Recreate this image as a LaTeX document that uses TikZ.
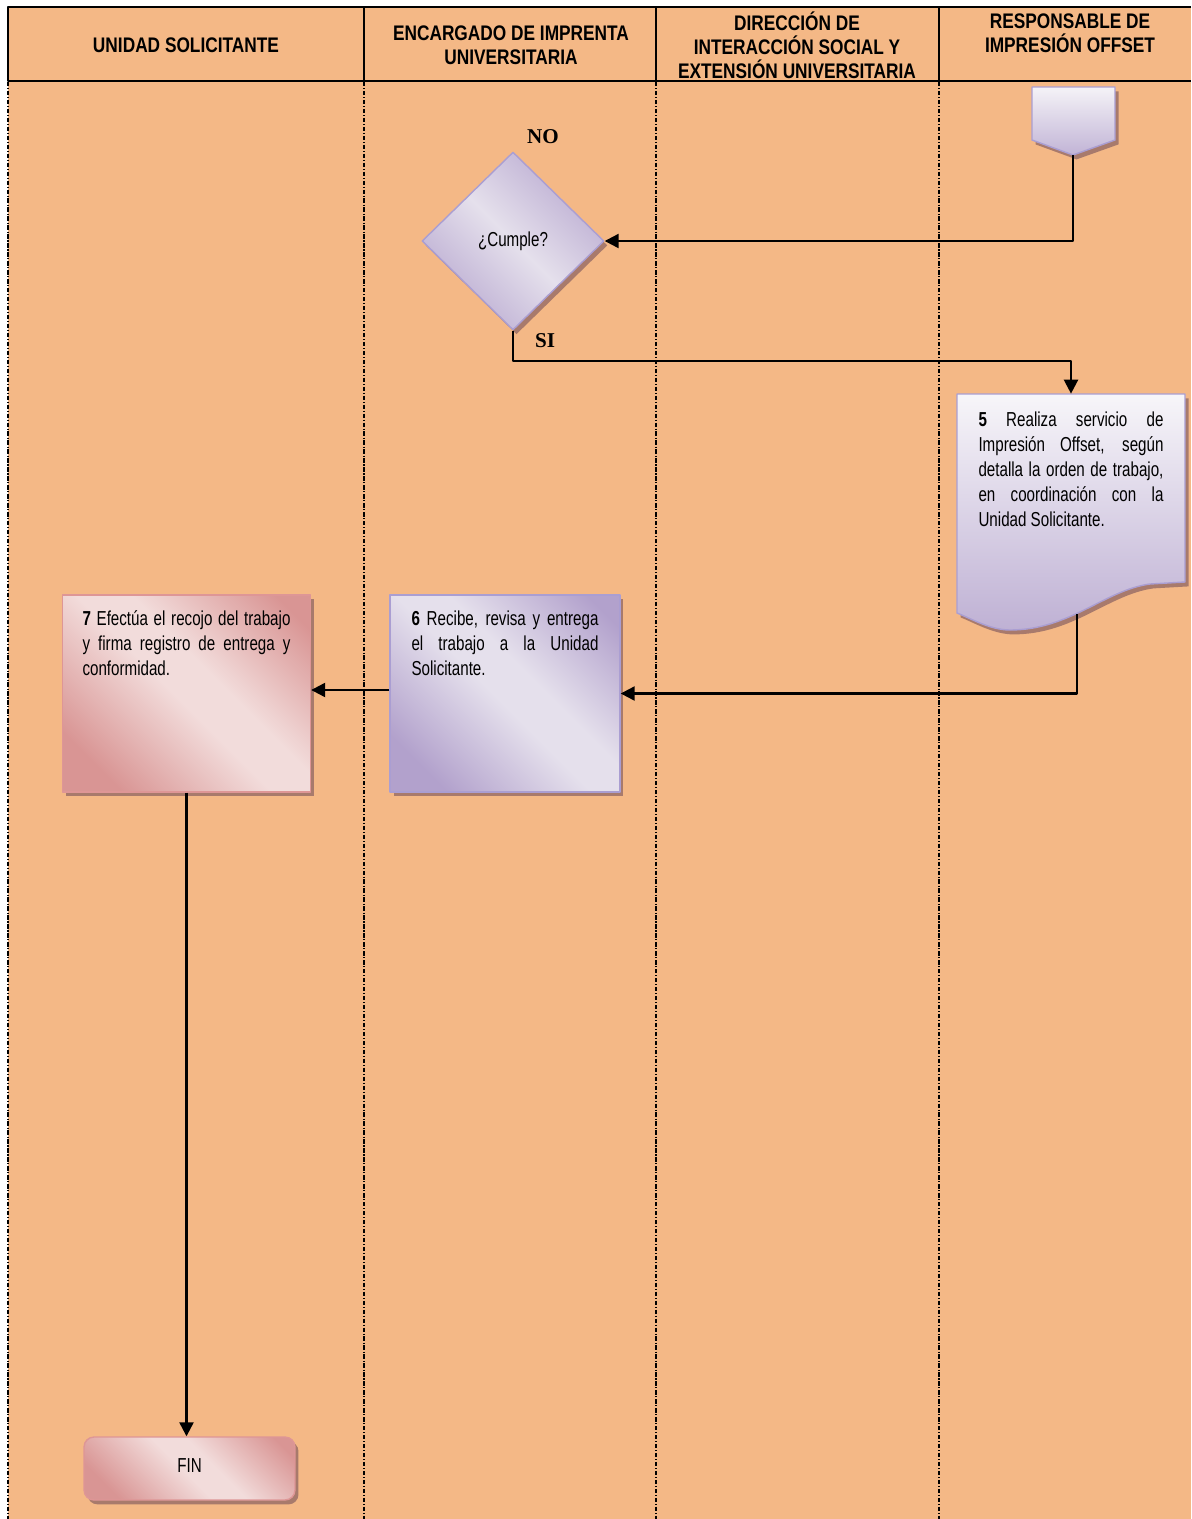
\documentclass[tikz,border=0pt]{standalone}
\usepackage{fontspec}
\setmainfont{Liberation Sans}
\newfontfamily\agencyfont[FakeStretch=0.75]{Liberation Sans}
\newfontfamily\hdrfont[FakeStretch=0.82]{Liberation Sans}
\newfontfamily\timesfont{Liberation Serif}
\usetikzlibrary{shapes.geometric,shadows,arrows.meta}
\definecolor{bgorange}{RGB}{244,184,134}
\definecolor{pinkdk}{RGB}{217,149,148}
\definecolor{pinklt}{RGB}{242,220,219}
\definecolor{pinkline}{RGB}{222,150,150}
\definecolor{purpdk}{RGB}{178,161,204}
\definecolor{purplt}{RGB}{229,224,236}
\definecolor{purpline}{RGB}{170,158,210}
\definecolor{shadowc}{RGB}{168,122,108}
\pgfdeclarehorizontalshading{pinkband}{100bp}{color(0bp)=(pinkdk); color(24bp)=(pinkdk); color(48bp)=(pinklt); color(57bp)=(pinklt); color(80bp)=(pinkdk); color(100bp)=(pinkdk)}
\pgfdeclarehorizontalshading{purpband}{100bp}{color(0bp)=(purpdk); color(24bp)=(purpdk); color(48bp)=(purplt); color(57bp)=(purplt); color(80bp)=(purpdk); color(100bp)=(purpdk)}
\pgfdeclarehorizontalshading{diamband}{100bp}{color(0bp)=(purpdk!60!purplt); color(32bp)=(purpdk!60!purplt); color(50bp)=(purplt); color(68bp)=(purpdk!60!purplt); color(100bp)=(purpdk!60!purplt)}
\begin{document}
\begin{tikzpicture}
[x=0.02cm, y=-0.02cm, line join=round,
 hdr/.style={font={\hdrfont\bfseries\fontsize{12}{13.6}\selectfont}, align=center, inner sep=0},
 txt/.style={font={\agencyfont\fontsize{11.5}{14.2}\selectfont}},
 shdw/.style={drop shadow={shadow xshift=2pt, shadow yshift=-2.5pt, fill=shadowc, opacity=1}},
 pinkbox/.style={txt, draw=pinkline, line width=0.8pt, shading=pinkband, shading angle=45, shdw},
 purpbox/.style={txt, draw=purpline, line width=0.8pt, shading=purpband, shading angle=45, shdw},
 decision/.style={txt, diamond, draw=purpline, line width=0.8pt, shading=diamband, shading angle=45, shdw,
   minimum width=3.64cm, minimum height=3.56cm, inner sep=0},
 yesno/.style={font={\timesfont\bfseries\fontsize{12}{14}\selectfont}, inner sep=0},
 conn/.style={line width=1.3pt, -{Triangle[length=8pt,width=8pt]}},
 lane/.style={line width=0.6pt, dash pattern=on 2.5pt off 1pt on 0.6pt off 1pt}]
\useasboundingbox (0,0) rectangle (1191,1519);
\fill[white] (0,0) rectangle (1191,1519);
\fill[bgorange] (8,7) rectangle (1191,1519);
\draw[line width=1.3pt] (1191,7) -- (8,7) -- (8,81) -- (1191,81);
\foreach \x in {364,656,939}
\draw[line width=1.3pt] (\x,7) -- (\x,81);
\foreach \x in {8,364,656,939}
\draw[lane] (\x,82) -- (\x,1519);
\node (h1) at (186,45) [hdr] {UNIDAD SOLICITANTE};
\node (h2) at (511,45) [hdr] {ENCARGADO DE IMPRENTA\\UNIVERSITARIA};
\node (h3) at (797,45) [hdr] {DIRECCIÓN DE\\INTERACCIÓN SOCIAL Y\\EXTENSIÓN UNIVERSITARIA};
\node (h4) at (1070,33) [hdr] {RESPONSABLE DE\\IMPRESIÓN OFFSET};
\draw[draw=purpline, line width=0.8pt, top color=purplt!40!white, bottom color=purpdk!70!purplt, shdw]
 (1032,87) -- (1115,87) -- (1115,140) -- (1073,155) -- (1032,140) -- cycle;
\coordinate (con) at (1073,155);
\node (dia) at (513,241) [decision] {¿Cumple?};
\node (lblno) at (543,137) [yesno] {NO};
\node (lblsi) at (545,341) [yesno] {SI};
\draw[draw=purpline, line width=0.8pt, top color=purplt!30!white, bottom color=purpdk!75!purplt, shdw]
 (957,394) -- (1185,394) -- (1185,582) -- (1150,584) .. controls (1105,590) and (1070,630) .. (1010,630)
 .. controls (990,630) and (970,618) .. (957,613) -- cycle;
\node (d5) at (1071,503.5) [txt, inner xsep=0.43cm, inner ysep=0.36cm]
 {\parbox[t][3.66cm][t]{3.7cm}{\textbf{5} Realiza servicio de\linebreak Impresión Offset, según\linebreak
  detalla la orden de trabajo,\linebreak en coordinación con la\linebreak Unidad Solicitante.}};
\coordinate (d5out) at (1077,614);
\node (b6) at (505,693.5) [purpbox, inner xsep=0.43cm, inner ysep=0.32cm]
 {\parbox[t][3.3cm][t]{3.74cm}{\textbf{6} Recibe, revisa y entrega\linebreak el trabajo a la Unidad\linebreak Solicitante.}};
\node (b7) at (186.5,693.5) [pinkbox, inner xsep=0.4cm, inner ysep=0.32cm]
 {\parbox[t][3.3cm][t]{4.16cm}{\textbf{7} Efectúa el recojo del trabajo\linebreak y firma registro de entrega y\linebreak conformidad.}};
\node (fin) at (189.5,1468.5) [pinkbox, rounded corners=0.2cm, minimum width=4.22cm, minimum height=1.26cm, inner sep=0] {\raisebox{3pt}{FIN}};
\draw[conn] (con) |- (dia.east);
\draw[conn] (dia.south) -- ++(0,30) -| (d5.north);
\draw[conn] (d5out) |- (b6.east);
\draw[conn] ([yshift=2pt]b6.west) -- ([yshift=2pt]b7.east);
\draw[conn] (b7.south) -- (b7.south |- fin.north);
\end{tikzpicture}
\end{document}
